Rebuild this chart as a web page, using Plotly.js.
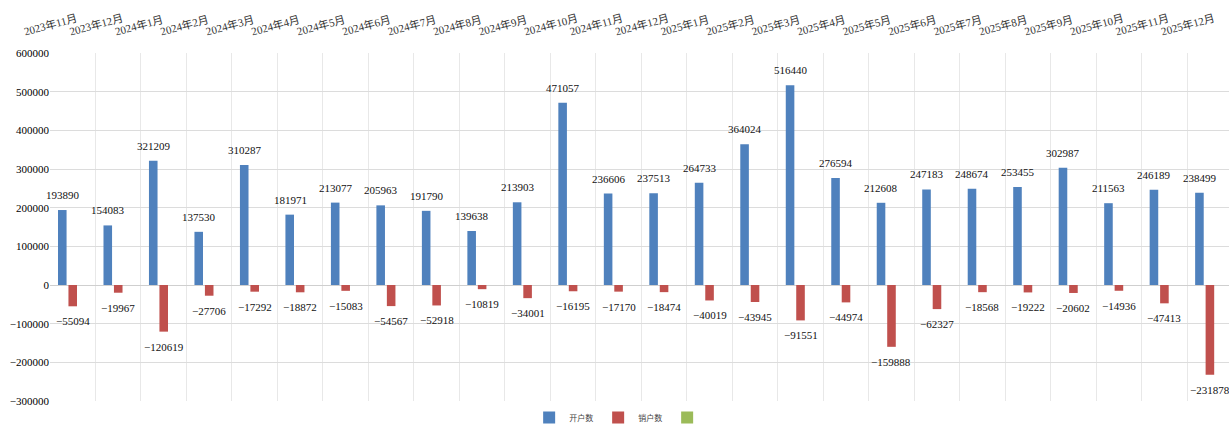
<!DOCTYPE html>
<html>
<head>
<meta charset="utf-8">
<script src="https://cdn.plot.ly/plotly-3.0.1.min.js"></script>
<style>html,body{margin:0;padding:0;background:#fff;}#chart{width:1229px;height:432px;}</style>
</head>
<body>
<div id="chart"></div>
<script>
const months = ["2023年11月","2023年12月","2024年1月","2024年2月","2024年3月","2024年4月","2024年5月","2024年6月","2024年7月","2024年8月","2024年9月","2024年10月","2024年11月","2024年12月","2025年1月","2025年2月","2025年3月","2025年4月","2025年5月","2025年6月","2025年7月","2025年8月","2025年9月","2025年10月","2025年11月","2025年12月"];
const openAccounts = [193890,154083,321209,137530,310287,181971,213077,205963,191790,139638,213903,471057,236606,237513,264733,364024,516440,276594,212608,247183,248674,253455,302987,211563,246189,238499];
const closedAccounts = [-55094,-19967,-120619,-27706,-17292,-18872,-15083,-54567,-52918,-10819,-34001,-16195,-17170,-18474,-40019,-43945,-91551,-44974,-159888,-62327,-18568,-19222,-20602,-14936,-47413,-231878];
const thirdSeries = months.map(() => null);

const serif = "Liberation Serif";
const labelFont = {family: serif, size: 11, color: "#111"};

const traces = [
  {type: "bar", name: "开户数", x: months, y: openAccounts, marker: {color: "#4F81BD"}},
  {type: "bar", name: "销户数", x: months, y: closedAccounts, marker: {color: "#C0504D"}},
  {type: "bar", name: "", x: months, y: thirdSeries, marker: {color: "#9BBB59"}, showlegend: true}
];

// data labels anchored to each bar value through the axes
const annotations = [];
months.forEach((m, i) => {
  annotations.push({x: m, y: openAccounts[i], xref: "x", yref: "y", text: String(openAccounts[i]),
    showarrow: false, yanchor: "bottom", yshift: 7, xshift: -10, font: labelFont});
  annotations.push({x: m, y: closedAccounts[i], xref: "x", yref: "y", text: "\u2212" + Math.abs(closedAccounts[i]),
    showarrow: false, yanchor: "top", yshift: -7, xshift: 0, font: labelFont});
});

const layout = {
  width: 1229, height: 432,
  margin: {l: 50, r: 0, t: 53, b: 31},
  paper_bgcolor: "#fff", plot_bgcolor: "#fff",
  barmode: "group", bargap: 0.31, bargroupgap: 0.18,
  font: {family: serif, color: "#111"},
  showlegend: true,
  annotations: annotations,
  legend: {orientation: "h", x: 0.505, xanchor: "center", xref: "container", y: 0.0, yanchor: "bottom", yref: "container",
           font: {family: "Noto Sans CJK SC", size: 8, color: "#444"}, itemwidth: 30, traceorder: "normal",
           tracegroupgap: 0, bgcolor: "rgba(0,0,0,0)"},
  xaxis: {type: "category", side: "top", tickangle: -15, tickson: "boundaries",
          range: [-0.5, 25.42],
          ticklabelshift: -49, ticklabelstandoff: 14,
          showgrid: true, gridcolor: "#e8e8e8", ticks: "", showline: false,
          tickfont: {family: "Liberation Serif, Noto Sans CJK SC", size: 11, color: "#333"}, automargin: false},
  yaxis: {range: [-300000, 600000], dtick: 100000, tickformat: "d",
          showgrid: true, gridcolor: "#dcdcdc", zeroline: true, zerolinecolor: "#cfcfcf", zerolinewidth: 1,
          tickfont: {family: serif, size: 11, color: "#000"}, ticks: "", showline: false, automargin: false}
};

Plotly.newPlot("chart", traces, layout, {displayModeBar: false, staticPlot: true});
</script>
</body>
</html>
